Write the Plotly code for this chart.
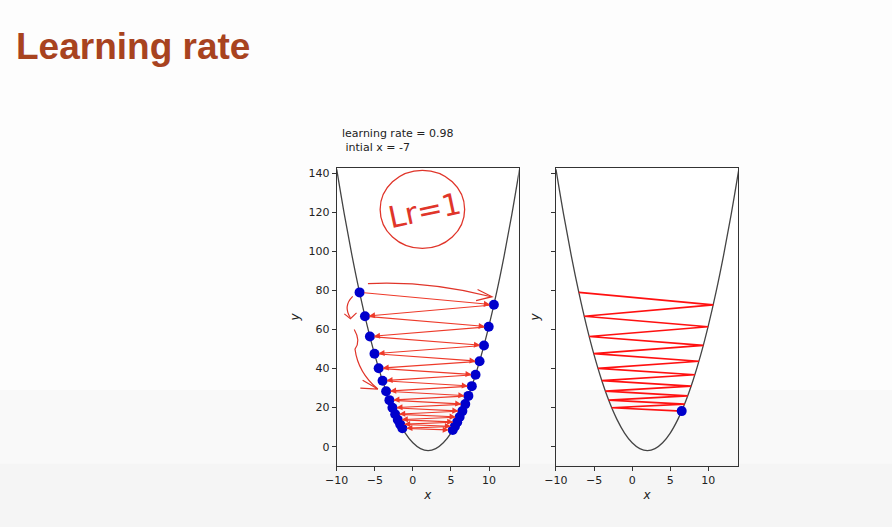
import plotly.graph_objects as go

# parabola (x every 1 unit)
curve_x = [-10, -9, -8, -7, -6, -5, -4, -3, -2, -1, 0, 1, 2, 3, 4, 5, 6, 7, 8, 9, 10, 11, 12, 13, 14]
curve_y = [142, 119, 98, 79, 62, 47, 34, 23, 14, 7, 2, -1, -2, -1, 2, 7, 14, 23, 34, 47, 62, 79, 98, 119, 142]

# gradient descent steps (left panel: all steps, right panel: first 18)
step_x = [-7.0, 10.64, -6.29, 9.96, -5.64, 9.34, -5.04, 8.76, -4.49, 8.23, -3.98, 7.74, -3.51,
          7.29, -3.08, 6.88, -2.68, 6.50, -2.32, 6.14, -1.98, 5.82, -1.67, 5.52, -1.38, 5.24]
step_y = [79.0, 72.65, 66.80, 61.40, 56.43, 51.85, 47.63, 43.74, 40.15, 36.85, 33.80, 31.00, 28.41,
          26.02, 23.83, 21.80, 19.94, 18.22, 16.63, 15.17, 13.82, 12.58, 11.44, 10.39, 9.42, 8.52]
n_right = 18

x_ticks = [-10, -5, 0, 5, 10]
x_ticktext = ["\u221210", "\u22125", "0", "5", "10"]
y_ticks = [0, 20, 40, 60, 80, 100, 120, 140]

panel_title = ["learning rate = 0.98", " intial x = -7"]
slide_title = "Learning rate"

curve_col = "#444444"
dot_col = "#0000cc"
arrow_col = "#ee3a2a"
line_col = "#ff1010"
ink = "#e0352a"
frame = "#333333"
txt = "#222222"

fig = go.Figure()

for ax in ["x", "x2"]:
    yax = "y" if ax == "x" else "y2"
    fig.add_trace(go.Scatter(x=curve_x, y=curve_y, mode="lines", xaxis=ax, yaxis=yax,
                             line=dict(color=curve_col, width=1.3, shape="spline"),
                             hoverinfo="skip", showlegend=False))

fig.add_trace(go.Scatter(x=step_x, y=step_y, mode="markers", xaxis="x", yaxis="y",
                         marker=dict(color=dot_col, size=10), showlegend=False))

fig.add_trace(go.Scatter(x=step_x[:n_right], y=step_y[:n_right], mode="lines", xaxis="x2", yaxis="y2",
                         line=dict(color=line_col, width=1.7), showlegend=False))
fig.add_trace(go.Scatter(x=[step_x[n_right - 1]], y=[step_y[n_right - 1]], mode="markers",
                         xaxis="x2", yaxis="y2", marker=dict(color=dot_col, size=10), showlegend=False))

annotations = []
for i in range(len(step_x) - 1):
    annotations.append(dict(x=step_x[i + 1], y=step_y[i + 1], ax=step_x[i], ay=step_y[i],
                            xref="x", yref="y", axref="x", ayref="y", text="",
                            showarrow=True, arrowhead=2, arrowsize=1.1, arrowwidth=1.1,
                            arrowcolor=arrow_col, standoff=4, startstandoff=3))

annotations.append(dict(x=0.016, y=0.911, xref="paper", yref="paper", text="<b>%s</b>" % slide_title,
                        showarrow=False, xanchor="left", yanchor="middle",
                        font=dict(family="Liberation Sans, Arial", size=37, color="#a8431f")))
annotations.append(dict(x=0.381, y=1 - 133 / 527, xref="paper", yref="paper", text=panel_title[0],
                        showarrow=False, xanchor="left", yanchor="middle",
                        font=dict(family="DejaVu Sans", size=11, color=txt)))
annotations.append(dict(x=0.381, y=1 - 147 / 527, xref="paper", yref="paper", text=panel_title[1],
                        showarrow=False, xanchor="left", yanchor="middle",
                        font=dict(family="DejaVu Sans", size=11, color=txt)))
# hand written note
annotations.append(dict(x=1.5, y=121, xref="x", yref="y", text="Lr=1", showarrow=False,
                        textangle=-12, font=dict(family="DejaVu Sans ExtraLight, DejaVu Sans", size=30, color=ink)))

shapes = [
    dict(type="rect", xref="paper", yref="paper", x0=0, x1=1, y0=0, y1=0.26,
         fillcolor="#f9f9f9", line=dict(width=0), layer="below"),
    dict(type="rect", xref="paper", yref="paper", x0=0, x1=1, y0=0, y1=0.12,
         fillcolor="#f5f5f5", line=dict(width=0), layer="below"),
    dict(type="circle", xref="x", yref="y", x0=-4.3, x1=6.8, y0=101.5, y1=141.5,
         line=dict(color=ink, width=1.3)),
    dict(type="path", xref="x", yref="y", path="M -5.9,83.5 Q 2,85 10.3,76.8",
         line=dict(color=ink, width=1.2)),
    dict(type="path", xref="x", yref="y", path="M 8.5,80.5 L 10.4,76.8 L 8.3,74.8",
         line=dict(color=ink, width=1.2)),
    dict(type="path", xref="x", yref="y", path="M -7.9,77 Q -9.2,72 -8.2,66",
         line=dict(color=ink, width=1.2)),
    dict(type="path", xref="x", yref="y", path="M -9.0,68 L -8.2,65.5 L -7.4,68.5",
         line=dict(color=ink, width=1.2)),
    dict(type="path", xref="x", yref="y", path="M -7.7,60 Q -6.8,54 -7.6,50 Q -7.2,38 -4.6,29.5",
         line=dict(color=ink, width=1.2)),
    dict(type="path", xref="x", yref="y", path="M -6.6,34 L -4.6,29.5 L -6.9,30",
         line=dict(color=ink, width=1.2)),
]

axis_style = dict(showline=True, mirror=True, linecolor=frame, linewidth=1.2,
                  ticks="outside", ticklen=4, tickcolor=frame, showgrid=False, zeroline=False,
                  automargin=False, tickfont=dict(family="DejaVu Sans", size=11, color=txt))
title_font = dict(family="DejaVu Sans", size=12, color=txt)

fig.update_layout(
    width=892, height=527, autosize=False,
    margin=dict(l=0, r=0, t=0, b=0, autoexpand=False),
    paper_bgcolor="#fdfdfd", plot_bgcolor="white",
    annotations=annotations, shapes=shapes,
    xaxis=dict(domain=[0.3775, 0.5815], range=[-10, 13.9], tickvals=x_ticks, ticktext=x_ticktext,
               title=dict(text="<i>x</i>", standoff=4, font=title_font), anchor="y", **axis_style),
    yaxis=dict(domain=[0.1157, 0.6812], range=[-9.9, 142.7], tickvals=y_ticks,
               title=dict(text="<i>y</i>", standoff=6, font=title_font), anchor="x", **axis_style),
    xaxis2=dict(domain=[0.6233, 0.8274], range=[-10, 13.9], tickvals=x_ticks, ticktext=x_ticktext,
                title=dict(text="<i>x</i>", standoff=4, font=title_font), anchor="y2", **axis_style),
    yaxis2=dict(domain=[0.1157, 0.6812], range=[-9.9, 142.7], tickvals=y_ticks, showticklabels=False,
                title=dict(text="<i>y</i>", standoff=8, font=title_font), anchor="x2", **axis_style),
)

fig.write_html("out.html",
               config={"displayModeBar": False, "responsive": False},
               post_script="document.body.style.margin='0';document.body.style.overflow='hidden';")
